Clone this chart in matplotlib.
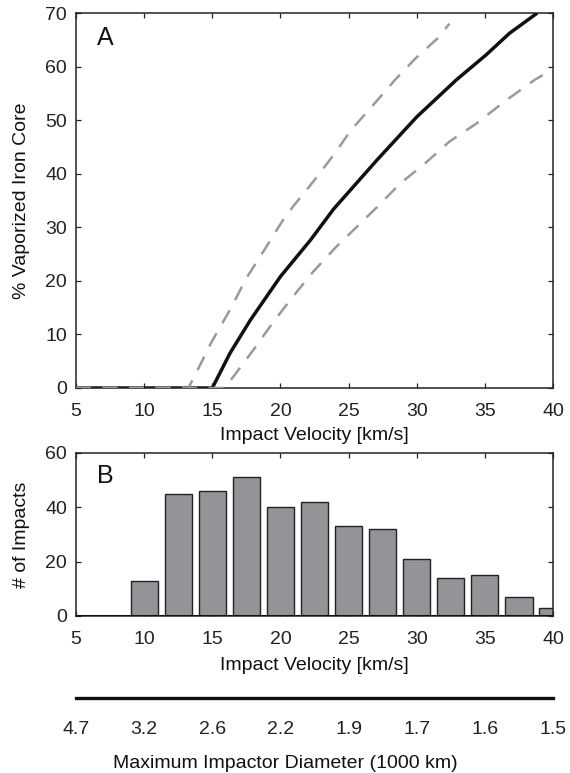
import matplotlib
matplotlib.use("Agg")
import matplotlib.pyplot as plt

plt.rcParams['font.family'] = ['Liberation Sans', 'DejaVu Sans']

# Panel A: % vaporized iron core vs impact velocity
v_mid = [5, 15.0, 16.3, 17.8, 20.0, 22.2, 23.9, 27.1, 30.0, 32.9, 35.1, 36.8, 38.85]
p_mid = [0, 0, 6.5, 12.7, 20.8, 27.6, 33.4, 42.6, 50.6, 57.5, 62.2, 66.2, 70.0]
v_up = [5, 13.25, 13.85, 14.95, 16.3, 17.5, 18.9, 20.1, 20.9, 22.4, 23.9, 25.2, 26.8, 28.4, 29.9, 31.5, 32.4]
p_up = [0, 0, 3.0, 8.6, 14.6, 20.5, 26.1, 31.0, 33.8, 38.5, 43.5, 48.2, 52.8, 57.5, 61.5, 65.2, 68.0]
v_lo = [5, 15.9, 16.54, 18.1, 19.5, 20.9, 22.4, 24.0, 27.1, 28.8, 30.6, 32.4, 34.4, 36.4, 38.7, 40.0]
p_lo = [0, 0, 2.1, 7.4, 12.4, 17.0, 21.7, 26.1, 33.8, 38.2, 41.9, 46.0, 49.4, 53.4, 57.6, 59.5]

# Panel B: histogram of impacts
bin_centers = [10, 12.5, 15, 17.5, 20, 22.5, 25, 27.5, 30, 32.5, 35, 37.5, 40]
counts = [13, 45, 46, 51, 40, 42, 33, 32, 21, 14, 15, 7, 3]

x_ticks = [5, 10, 15, 20, 25, 30, 35, 40]
diam_labels = ['4.7', '3.2', '2.6', '2.2', '1.9', '1.7', '1.6', '1.5']

W, H = 570, 773
fig = plt.figure(figsize=(W / 100, H / 100), dpi=100)
fs = 14
tc = '#222222'
L, R = 76, 553

def style(ax):
    ax.tick_params(direction='in', length=3.5, width=0.9, top=True, right=True,
                   labelsize=fs, colors=tc)
    ax.tick_params(axis='x', pad=11)
    ax.tick_params(axis='y', pad=6.5)
    for s in ax.spines.values():
        s.set_linewidth(1.1)
        s.set_color('#222222')

# Panel A
axA = fig.add_axes([L / W, 1 - 388 / H, (R - L) / W, 375 / H])
axA.plot(v_mid, p_mid, color='#111111', lw=2.5, solid_capstyle='butt', zorder=2)
axA.plot(v_up, p_up, color='#9a9a9a', lw=1.8, dashes=(6.0, 4.6), zorder=3)
axA.plot(v_lo, p_lo, color='#9a9a9a', lw=1.8, dashes=(6.0, 4.6), zorder=3)
axA.set_xlim(5, 40)
axA.set_ylim(0, 70)
axA.set_xticks(x_ticks)
axA.set_yticks(range(0, 71, 10))
axA.set_xlabel('Impact Velocity [km/s]', fontsize=fs, color='#111111')
axA.xaxis.label.set_va('center')
axA.xaxis.set_label_coords(0.5, -(436 - 388) / 375)
axA.set_ylabel('% Vaporized Iron Core', fontsize=fs, color='#111111')
axA.yaxis.label.set_va('center')
axA.yaxis.set_label_coords((22 - L) / (R - L), 0.5)
axA.text(7.13, 65.3, 'A', fontsize=18, ha='center', va='center', color='#111111')
style(axA)

# Panel B
axB = fig.add_axes([L / W, 1 - 616 / H, (R - L) / W, 163.3 / H])
axB.bar(bin_centers, counts, width=2.0, color='#939498', edgecolor='#222222',
        linewidth=1.0, zorder=2)
axB.axhline(0, color='#111111', lw=2.2, zorder=3)
axB.set_xlim(5, 40)
axB.set_ylim(0, 60)
axB.set_xticks(x_ticks)
axB.set_yticks([0, 20, 40, 60])
axB.set_xlabel('Impact Velocity [km/s]', fontsize=fs, color='#111111')
axB.xaxis.label.set_va('center')
axB.xaxis.set_label_coords(0.5, -(665 - 616) / 163.3)
axB.set_ylabel('# of Impacts', fontsize=fs, color='#111111')
axB.yaxis.label.set_va('center')
axB.yaxis.set_label_coords((22 - L) / (R - L), 0.5)
axB.text(7.13, 51.4, 'B', fontsize=18, ha='center', va='center', color='#111111')
style(axB)

# Secondary scale: maximum impactor diameter
axC = fig.add_axes([L / W, 1 - 697.7 / H, (R - L) / W, 0.0001])
for k in ['top', 'left', 'right']:
    axC.spines[k].set_visible(False)
axC.spines['bottom'].set_linewidth(2.4)
axC.spines['bottom'].set_color('#111111')
axC.set_xlim(5, 40)
axC.set_yticks([])
axC.set_xticks(x_ticks)
axC.set_xticklabels(diam_labels)
axC.tick_params(axis='x', length=0, labelsize=fs, colors=tc, pad=16.5)
axC.set_xlabel('Maximum Impactor Diameter (1000 km)', fontsize=fs, color='#111111')
axC.xaxis.label.set_va('center')
axC.xaxis.set_label_coords(0.5, 1 - 763 / H, transform=fig.transFigure)
axC.patch.set_visible(False)

fig.savefig('out.png', dpi=100)
